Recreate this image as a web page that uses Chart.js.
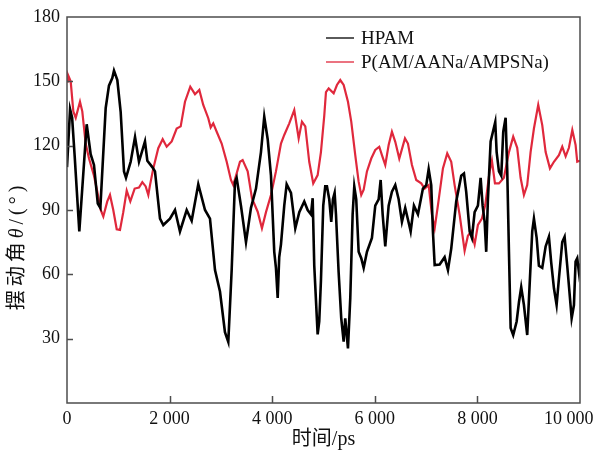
<!DOCTYPE html>
<html>
<head>
<meta charset="utf-8">
<script src="https://cdn.jsdelivr.net/npm/chart.js@4.4.1/dist/chart.umd.min.js"></script>
<style>
  body { margin: 0; background: #fff; }
</style>
</head>
<body>
<canvas id="myChart" width="596" height="454"></canvas>
<script>
// time (ps) and swing angle (deg)
const hpamTime = [0, 60, 100, 150, 240, 384, 461, 526, 600, 650, 754, 818, 883, 916, 981, 1046, 1111, 1150, 1241, 1326, 1403, 1520, 1566, 1663, 1715, 1813, 1877, 2007, 2105, 2202, 2333, 2430, 2559, 2690, 2787, 2885, 2982, 3079, 3144, 3210, 3274, 3307, 3391, 3489, 3586, 3684, 3781, 3845, 3912, 3976, 4040, 4073, 4107, 4137, 4171, 4235, 4282, 4366, 4450, 4528, 4625, 4691, 4756, 4789, 4820, 4886, 4917, 4950, 4995, 5034, 5067, 5112, 5151, 5184, 5217, 5243, 5295, 5346, 5393, 5424, 5477, 5522, 5568, 5600, 5638, 5685, 5736, 5783, 5847, 5944, 6009, 6075, 6114, 6153, 6204, 6270, 6334, 6399, 6465, 6529, 6593, 6671, 6699, 6763, 6841, 6938, 7003, 7050, 7100, 7133, 7167, 7264, 7361, 7426, 7490, 7587, 7685, 7738, 7782, 7849, 7893, 7946, 8010, 8063, 8102, 8141, 8172, 8205, 8258, 8303, 8348, 8375, 8420, 8465, 8504, 8550, 8582, 8615, 8648, 8698, 8765, 8810, 8854, 8907, 8971, 9024, 9069, 9102, 9155, 9199, 9264, 9330, 9394, 9439, 9492, 9544, 9589, 9654, 9700, 9751, 9804, 9837, 9882, 9914, 9946, 9979, 10000];
const hpamAngle = [110, 137, 133, 115, 80, 130, 116, 111, 93, 91, 137.5, 148, 151.5, 155, 150.6, 135.8, 108, 105, 112.5, 124, 112.5, 122, 113, 110, 108, 86, 83, 86, 90, 80, 90, 85, 102, 90, 86, 62, 52, 33, 28.5, 62, 103, 105, 92, 75, 91, 100, 117, 133.5, 123, 106, 70.5, 63, 49, 68, 74, 92, 102, 98, 81.5, 89, 94, 90, 88, 95.5, 64, 32, 38, 57, 92, 101, 101, 95, 84.5, 95, 98, 88, 61, 39.5, 28.6, 39.5, 25.5, 49, 88, 101, 95, 70.5, 67.5, 63, 70.5, 77, 92, 95, 104, 88, 73, 92, 98.5, 101.6, 95, 84.5, 91, 83, 80, 92, 88, 100, 101.6, 109, 101.6, 80, 64.3, 64.6, 68, 62, 72, 94, 106, 107, 98.5, 80, 77, 89, 92, 105, 92, 84.5, 70.5, 95, 122, 126.5, 131, 117, 108, 106, 126.5, 133, 108, 70.5, 35, 31.7, 38, 47, 54, 45.7, 31.7, 58, 80, 86, 77, 64, 63, 73, 77.5, 65.5, 53.5, 45.7, 58, 75, 77.5, 64, 49, 39.5, 45.7, 66, 67.5, 61, 65];

const polyTime = [0, 19, 72, 123, 170, 253, 298, 364, 429, 526, 591, 657, 708, 785, 838, 902, 969, 1033, 1097, 1164, 1234, 1319, 1403, 1468, 1534, 1585, 1618, 1682, 1779, 1865, 1943, 2041, 2138, 2216, 2300, 2403, 2495, 2579, 2656, 2754, 2801, 2851, 2918, 3015, 3113, 3196, 3241, 3294, 3372, 3424, 3522, 3606, 3717, 3800, 3879, 3976, 4073, 4171, 4235, 4333, 4430, 4516, 4580, 4645, 4722, 4800, 4886, 4950, 5015, 5048, 5101, 5198, 5262, 5327, 5393, 5477, 5541, 5619, 5685, 5736, 5783, 5847, 5931, 6009, 6087, 6139, 6204, 6270, 6334, 6399, 6477, 6588, 6646, 6724, 6808, 6905, 6972, 7050, 7114, 7167, 7231, 7328, 7412, 7490, 7556, 7654, 7751, 7815, 7880, 7946, 8010, 8088, 8153, 8238, 8283, 8342, 8420, 8517, 8615, 8698, 8776, 8842, 8907, 8971, 9037, 9102, 9186, 9264, 9330, 9414, 9492, 9589, 9654, 9720, 9784, 9850, 9914, 9946, 10000];
const polyAngle = [150, 153, 150, 136, 133, 140.5, 136, 121, 114, 106, 98.5, 90, 87, 94, 97, 90, 81, 80.7, 89, 99, 94, 100, 100.5, 103, 101, 97, 101.6, 109.4, 118.8, 123, 119.5, 122, 128, 129, 140.5, 147.5, 144, 146, 139, 132.8, 128.5, 130.4, 126.5, 121, 112.5, 104, 101.6, 106, 112.5, 113.3, 108, 95.4, 89.2, 81.5, 89, 97, 108, 121, 125, 130.4, 136.6, 123.4, 131.2, 129, 112.5, 102.4, 106.3, 117, 134, 145, 146.7, 144.4, 148.3, 150.6, 148.3, 140.5, 131.2, 115.6, 103.2, 97, 99.5, 108, 114, 118, 119.5, 115.6, 111, 120.3, 126.5, 121.8, 114, 123.4, 121, 111, 104, 102.4, 100, 101.6, 87.7, 81.5, 92.3, 109.4, 116.4, 112.5, 101.6, 87.7, 71, 78, 80, 74, 83, 86, 92.3, 108, 113, 102.4, 102.4, 105, 117, 124.2, 119, 105, 97, 101.6, 117, 128, 139, 129.6, 117, 109.4, 112.5, 115.6, 119.5, 115, 119, 127.3, 120.3, 112.5, 113];

const seriesNames = ['HPAM', 'P(AM/AANa/AMPSNa)'];
const seriesColors = ['#000000', '#e0283c'];
const xTicks = [0, 2000, 4000, 6000, 8000, 10000];
const yTicks = [0, 30, 60, 90, 120, 150, 180];

const FONT = "'Liberation Serif', 'Noto Sans CJK SC', serif";

function toPoints(xs, ys) {
  return xs.map((t, i) => ({ x: t, y: ys[i] }));
}

// box, inward ticks, legend and y title
const decorations = {
  id: 'decorations',
  afterDraw(chart) {
    const { ctx, chartArea: a, scales: { x, y } } = chart;
    ctx.save();
    ctx.strokeStyle = '#4d4d4d';
    ctx.lineWidth = 1.5;
    ctx.strokeRect(a.left, a.top, a.right - a.left, a.bottom - a.top);
    ctx.beginPath();
    xTicks.slice(1, -1).forEach(v => {
      const p = Math.round(x.getPixelForValue(v)) + 0.5;
      ctx.moveTo(p, a.bottom);
      ctx.lineTo(p, a.bottom - 7);
    });
    yTicks.slice(1, -1).forEach(v => {
      const p = Math.round(y.getPixelForValue(v)) + 0.5;
      ctx.moveTo(a.left, p);
      ctx.lineTo(a.left + 6, p);
    });
    ctx.stroke();

    // legend
    ctx.font = '19px ' + FONT;
    ctx.textBaseline = 'middle';
    ctx.fillStyle = '#111';
    chart.data.datasets.forEach((ds, i) => {
      const ly = 38 + i * 24;
      ctx.strokeStyle = ds.borderColor;
      ctx.lineWidth = 1.3;
      ctx.beginPath();
      ctx.moveTo(326, ly);
      ctx.lineTo(354, ly);
      ctx.stroke();
      ctx.fillText(ds.label, 361, ly + 1);
    });

    // y axis title with italic theta
    const parts = [
      ['摆动角', '20px ' + FONT],
      ['θ', 'italic 20px ' + FONT],
      ['/(°)', '20px ' + FONT]
    ];
    ctx.letterSpacing = '4px';
    let total = 0;
    parts.forEach(p => { ctx.font = p[1]; total += ctx.measureText(p[0]).width; });
    ctx.translate(18, 246);
    ctx.rotate(-Math.PI / 2);
    ctx.textAlign = 'left';
    let cx = -total / 2;
    parts.forEach(p => {
      ctx.font = p[1];
      ctx.fillText(p[0], cx, 0);
      cx += ctx.measureText(p[0]).width;
    });
    ctx.restore();
  }
};

new Chart(document.getElementById('myChart'), {
  type: 'line',
  data: {
    datasets: [
      {
        label: seriesNames[0],
        data: toPoints(hpamTime, hpamAngle),
        borderColor: seriesColors[0],
        borderWidth: 2.6,
        pointRadius: 0,
        tension: 0,
        order: 0,
      },
      {
        label: seriesNames[1],
        data: toPoints(polyTime, polyAngle),
        borderColor: seriesColors[1],
        borderWidth: 2.2,
        pointRadius: 0,
        tension: 0,
        order: 1,
      },
    ],
  },
  options: {
    responsive: false,
    animation: false,
    layout: {
      padding: { top: 17, right: 16, left: 0, bottom: 0 },
    },
    plugins: {
      legend: { display: false },
      tooltip: { enabled: false },
    },
    scales: {
      x: {
        type: 'linear',
        min: 0,
        max: 10000,
        grid: { display: false, drawTicks: false },
        border: { display: false },
        ticks: {
          stepSize: 2000,
          maxRotation: 0,
          autoSkip: false,
          padding: 5,
          color: '#111',
          font: { family: FONT, size: 18 },
          callback: function (value) {
            if (value === 0) return '0';
            const s = (value / 1000) + ' 000';
            // last label sits a little to the left, as in the figure
            return value === 10000 ? s + '\u00a0'.repeat(5) : s;
          },
        },
        title: {
          display: true,
          text: '时间/ps',
          color: '#111',
          font: { family: FONT, size: 20 },
          padding: 2,
        },
        afterFit: function (scale) {
          scale.height = 51;
          scale.paddingLeft = 0;
          scale.paddingRight = 0;
        },
      },
      y: {
        min: 0,
        max: 180,
        grid: { display: false, drawTicks: false },
        border: { display: false },
        ticks: {
          stepSize: 30,
          padding: 7,
          color: '#111',
          font: { family: FONT, size: 18 },
          callback: function (value) {
            return value === 0 ? '' : value;
          },
        },
        afterFit: function (scale) {
          scale.width = 67;
          scale.paddingTop = 0;
          scale.paddingBottom = 0;
        },
      },
    },
  },
  plugins: [decorations],
});
</script>
</body>
</html>
